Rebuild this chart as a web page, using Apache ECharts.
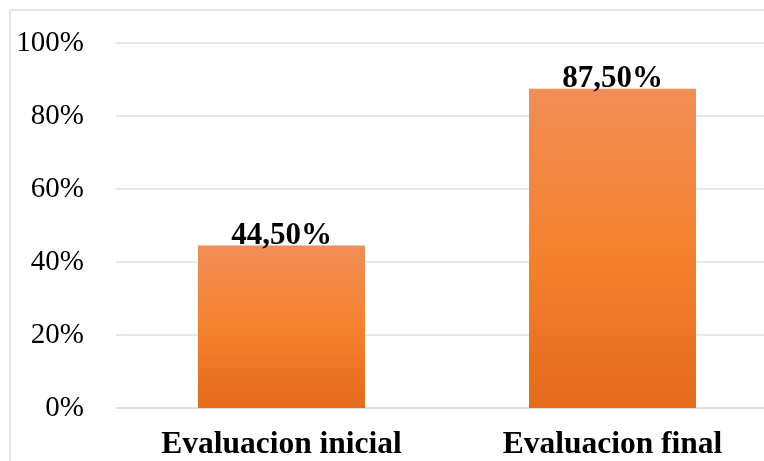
<!DOCTYPE html>
<html>
<head>
<meta charset="utf-8">
<script src="https://cdn.jsdelivr.net/npm/echarts@6/dist/echarts.min.js"></script>
<style>
  html, body { margin: 0; padding: 0; background: #fff; overflow: hidden; width: 764px; height: 461px; }
  #chart { width: 780px; height: 461px; }
</style>
</head>
<body>
<div id="chart"></div>
<script>
// Share of results per evaluation stage (percent)
const categories = ['Evaluacion inicial', 'Evaluacion final'];
const values = [44.5, 87.5];
const yTicks = [0, 20, 40, 60, 80, 100];

const serif = '"Liberation Serif", "Times New Roman", serif';
const gridColor = '#DCE1E8';

const chart = echarts.init(document.getElementById('chart'), null, { renderer: 'canvas' });

chart.setOption({
  animation: false,
  backgroundColor: '#ffffff',
  graphic: [{
    type: 'rect',
    shape: { x: 10, y: 10, width: 820, height: 520 },
    style: { fill: 'none', stroke: gridColor, lineWidth: 1.5 },
    silent: true,
    z: -1
  }],
  grid: { left: 116, right: 2, top: 43, bottom: 53 },
  xAxis: {
    type: 'category',
    data: categories,
    axisLine: { show: true, lineStyle: { color: gridColor, width: 1.5 } },
    axisTick: { show: false },
    axisLabel: {
      color: '#000',
      fontFamily: serif,
      fontWeight: 'bold',
      fontSize: 31.5,
      margin: 21
    }
  },
  yAxis: {
    type: 'value',
    min: yTicks[0],
    max: yTicks[yTicks.length - 1],
    interval: yTicks[1] - yTicks[0],
    axisLine: { show: false },
    axisTick: { show: false },
    splitLine: { lineStyle: { color: gridColor, width: 1.5 } },
    axisLabel: {
      color: '#000',
      fontFamily: serif,
      fontSize: 29,
      margin: 32,
      formatter: '{value}%'
    }
  },
  series: [{
    type: 'bar',
    data: values,
    barWidth: 167,
    itemStyle: {
      color: new echarts.graphic.LinearGradient(0, 0, 0, 1, [
        { offset: 0, color: '#F18D56' },
        { offset: 0.5, color: '#F5822F' },
        { offset: 1, color: '#E46A1C' }
      ])
    },
    label: {
      show: true,
      position: 'top',
      distance: -6,
      color: '#000',
      fontFamily: serif,
      fontWeight: 'bold',
      fontSize: 31,
      formatter: p => p.value.toFixed(2).replace('.', ',') + '%'
    }
  }]
});
</script>
</body>
</html>
